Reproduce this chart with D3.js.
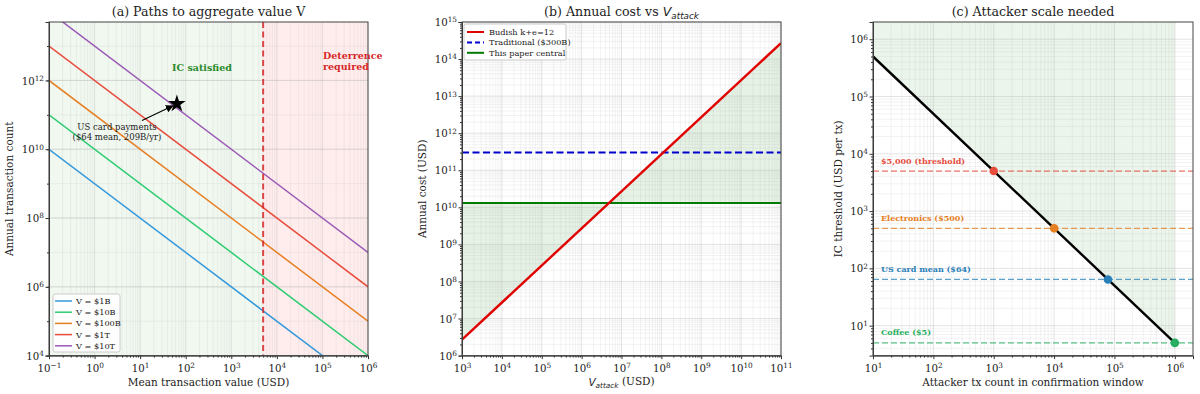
<!DOCTYPE html>
<html>
<head>
<meta charset="utf-8">
<script src="https://cdn.jsdelivr.net/npm/d3@7"></script>
<style>
  body { margin: 0; background: white; }
  svg text { font-family: "DejaVu Serif", serif; fill: #222; }
  .tick line { stroke: #333; }
  .domain { stroke: #333; }
</style>
</head>
<body>
<svg id="chart" width="1200" height="394"></svg>
<script>
// ---- panel (a) data ----
var aggValues = [1e9, 1e10, 1e11, 1e12, 1e13];
var aggLabels = ["V = $1B", "V = $10B", "V = $100B", "V = $1T", "V = $10T"];
var aggColors = ["#3498db", "#2ecc71", "#e67e22", "#e74c3c", "#9b59b6"];
var meanTxRange = [0.1, 1e6];
var countRange = [1e4, 5e13];
var deterrenceLine = 5000;
var usCardMean = 64, usCardCount = 209e9;

// ---- panel (b) data ----
var vAttack = [1e3, 1e11];
var budishCost = [2.7e6, 2.7e14];
var traditionalCost = 3e11;
var paperCentralCost = 1.3e10;
var costRange = [1e6, 1e15];

// ---- panel (c) data ----
var attackerTx = [10, 1e6];
var icThreshold = [5e5, 5];
var refLabels = ["$5,000 (threshold)", "Electronics ($500)", "US card mean ($64)", "Coffee ($5)"];
var refValues = [5000, 500, 64, 5];
var refTxCounts = [1e3, 1e4, 78125, 1e6];
var refColors = ["#e74c3c", "#e67e22", "#2980b9", "#27ae60"];
var txRange = [10, 2e6];
var thresholdRange = [3, 2e6];

var svg = d3.select("#chart");
var top_ = 22, bottom_ = 355.6;

function sup(sel, e) {
  sel.text("10").append("tspan")
    .attr("dy", "-0.5em").attr("font-size", "0.72em")
    .text(e < 0 ? "\u2212" + (-e) : e);
}

function decades(lo, hi, step) {
  var out = [];
  for (var e = Math.ceil(Math.log10(lo) - 1e-9); e <= Math.floor(Math.log10(hi) + 1e-9); e += (step || 1)) out.push(e);
  return out;
}
function minors(lo, hi) {
  var out = [];
  for (var e = Math.floor(Math.log10(lo)) ; e <= Math.ceil(Math.log10(hi)); e++)
    for (var m = 2; m <= 9; m++) { var v = m * Math.pow(10, e); if (v > lo && v < hi) out.push(v); }
  return out;
}

function panel(x0, x1, xDom, yDom, opts) {
  var g = svg.append("g");
  var x = d3.scaleLog().domain(xDom).range([x0, x1]);
  var y = d3.scaleLog().domain(yDom).range([bottom_, top_]);
  var id = "clip" + Math.round(x0);
  svg.append("clipPath").attr("id", id).append("rect")
    .attr("x", x0).attr("y", top_).attr("width", x1 - x0).attr("height", bottom_ - top_);
  var bg = g.append("g"), grid = g.append("g"), plot = g.append("g").attr("clip-path", "url(#" + id + ")");
  var xe = decades(xDom[0], xDom[1], 1), ye = decades(yDom[0], yDom[1], opts.yStep || 1);
  var xm = minors(xDom[0], xDom[1]), ym = opts.yStep ? decades(yDom[0], yDom[1], 1).map(function(e){return Math.pow(10,e);}) : minors(yDom[0], yDom[1]);
  // grid
  grid.selectAll(".vmin").data(xm).enter().append("line")
    .attr("x1", x).attr("x2", x).attr("y1", top_).attr("y2", bottom_)
    .attr("stroke", "#b0b0b0").attr("stroke-opacity", 0.25).attr("stroke-width", 0.6);
  grid.selectAll(".hmin").data(ym).enter().append("line")
    .attr("y1", y).attr("y2", y).attr("x1", x0).attr("x2", x1)
    .attr("stroke", "#b0b0b0").attr("stroke-opacity", 0.25).attr("stroke-width", 0.6);
  grid.selectAll(".vmaj").data(xe).enter().append("line")
    .attr("x1", function(e){return x(Math.pow(10,e));}).attr("x2", function(e){return x(Math.pow(10,e));})
    .attr("y1", top_).attr("y2", bottom_)
    .attr("stroke", "#b0b0b0").attr("stroke-opacity", 0.45).attr("stroke-width", 0.8);
  grid.selectAll(".hmaj").data(ye).enter().append("line")
    .attr("y1", function(e){return y(Math.pow(10,e));}).attr("y2", function(e){return y(Math.pow(10,e));})
    .attr("x1", x0).attr("x2", x1)
    .attr("stroke", "#b0b0b0").attr("stroke-opacity", 0.45).attr("stroke-width", 0.8);

  // axes
  var ax = g.append("g").attr("transform", "translate(0," + bottom_ + ")")
    .call(d3.axisBottom(x).tickValues(xe.map(function(e){return Math.pow(10,e);})).tickSize(3.5).tickPadding(3).tickFormat(""));
  ax.selectAll(".tick text").remove();
  ax.selectAll(".tick").append("text").attr("y", 16).attr("text-anchor", "middle")
    .attr("font-size", 10.2).each(function(d){ sup(d3.select(this), Math.round(Math.log10(d))); });
  g.append("g").attr("transform", "translate(0," + bottom_ + ")")
    .call(d3.axisBottom(x).tickValues(xm).tickSize(2).tickFormat("")).select(".domain").remove();
  var ay = g.append("g").attr("transform", "translate(" + x0 + ",0)")
    .call(d3.axisLeft(y).tickValues(ye.map(function(e){return Math.pow(10,e);})).tickSize(3.5).tickFormat(""));
  ay.selectAll(".tick").append("text").attr("x", -5).attr("dy", "0.35em").attr("text-anchor", "end")
    .attr("font-size", 10.2).each(function(d){ sup(d3.select(this), Math.round(Math.log10(d))); });
  g.append("g").attr("transform", "translate(" + x0 + ",0)")
    .call(d3.axisLeft(y).tickValues(ym).tickSize(2).tickFormat("")).select(".domain").remove();

  g.append("text").attr("x", (x0 + x1) / 2).attr("y", 386).attr("text-anchor", "middle")
    .attr("font-size", 10.5).attr("class", "xl").text(opts.xlabel);
  g.append("text").attr("transform", "translate(" + opts.ylx + "," + ((top_ + bottom_) / 2) + ") rotate(-90)")
    .attr("text-anchor", "middle").attr("font-size", 10.5).text(opts.ylabel);
  g.append("text").attr("x", (x0 + x1) / 2).attr("y", 16).attr("text-anchor", "middle")
    .attr("font-size", 12.6).attr("class", "title").text(opts.title);

  var frame = g.append("rect").attr("x", x0).attr("y", top_).attr("width", x1 - x0).attr("height", bottom_ - top_)
    .attr("fill", "none").attr("stroke", "#444").attr("stroke-width", 1);
  return {g: g, bg: bg, plot: plot, x: x, y: y, frame: frame};
}

// ================= panel (a) =================
var A = panel(49, 368, meanTxRange, countRange, {
  yStep: 2, title: "(a) Paths to aggregate value V",
  xlabel: "Mean transaction value (USD)", ylabel: "Annual transaction count", ylx: 13
});
A.bg.append("rect").attr("x", A.x(meanTxRange[0])).attr("y", top_)
  .attr("width", A.x(deterrenceLine) - A.x(meanTxRange[0])).attr("height", bottom_ - top_)
  .attr("fill", "green").attr("fill-opacity", 0.06);
A.bg.append("rect").attr("x", A.x(deterrenceLine)).attr("y", top_)
  .attr("width", A.x(meanTxRange[1]) - A.x(deterrenceLine)).attr("height", bottom_ - top_)
  .attr("fill", "red").attr("fill-opacity", 0.07);
var lineA = d3.line().x(function(d){return A.x(d[0]);}).y(function(d){return A.y(d[1]);});
aggValues.forEach(function(V, i) {
  A.plot.append("path").datum(meanTxRange.map(function(m){ return [m, V / m]; }))
    .attr("d", lineA).attr("fill", "none").attr("stroke", aggColors[i]).attr("stroke-width", 1.5);
});
A.plot.append("line").attr("x1", A.x(deterrenceLine)).attr("x2", A.x(deterrenceLine))
  .attr("y1", top_).attr("y2", bottom_).attr("stroke", "#d62728").attr("stroke-width", 2)
  .attr("stroke-dasharray", "6,3.5").attr("stroke-opacity", 0.85);
var starX = A.x(usCardMean), starY = A.y(usCardCount);
A.g.append("path").attr("transform", "translate(" + starX + "," + starY + ")")
  .attr("d", d3.symbol().type(d3.symbolStar).size(95)).attr("fill", "black");
svg.append("defs").append("marker").attr("id", "arr").attr("viewBox", "0 0 10 10")
  .attr("refX", 9).attr("refY", 5).attr("markerWidth", 7).attr("markerHeight", 7).attr("orient", "auto")
  .append("path").attr("d", "M0,0 L10,5 L0,10 z").attr("fill", "black");
A.g.append("line").attr("x1", 142).attr("y1", 120.5).attr("x2", starX - 4).attr("y2", starY + 2)
  .attr("stroke", "black").attr("stroke-width", 1.1).attr("marker-end", "url(#arr)");
A.g.append("text").attr("x", 117).attr("y", 130).attr("text-anchor", "middle").attr("font-size", 8.5)
  .text("US card payments");
A.g.append("text").attr("x", 117).attr("y", 140).attr("text-anchor", "middle").attr("font-size", 8.5)
  .text("($64 mean, 209B/yr)");
A.g.append("text").attr("x", 202).attr("y", 71).attr("text-anchor", "middle").attr("font-size", 9.5)
  .attr("font-weight", "bold").style("fill", "#2a8a2a").text("IC satisfied");
A.g.append("text").attr("x", 323).attr("y", 59).attr("font-size", 9.5)
  .attr("font-weight", "bold").style("fill", "#d62728").text("Deterrence");
A.g.append("text").attr("x", 323).attr("y", 70).attr("font-size", 9.5)
  .attr("font-weight", "bold").style("fill", "#d62728").text("required");
// legend (a)
var legA = A.g.append("g");
legA.append("rect").attr("x", 53).attr("y", 294).attr("width", 67).attr("height", 58).attr("rx", 2)
  .attr("fill", "white").attr("fill-opacity", 0.85).attr("stroke", "#ccc");
aggLabels.forEach(function(l, i) {
  var yy = 301 + i * 11.2;
  legA.append("line").attr("x1", 55).attr("x2", 72).attr("y1", yy).attr("y2", yy)
    .attr("stroke", aggColors[i]).attr("stroke-width", 1.5);
  legA.append("text").attr("x", 76).attr("y", yy + 3).attr("font-size", 8.2).text(l);
});

// ================= panel (b) =================
var B = panel(462, 781, vAttack, costRange, {
  title: "", xlabel: "", ylabel: "Annual cost (USD)", ylx: 426
});
var bt = B.g.select(".title");
bt.text("(b) Annual cost vs ");
bt.append("tspan").style("font-family", "DejaVu Sans").style("font-style", "italic").text("V");
bt.append("tspan").style("font-family", "DejaVu Sans").style("font-style", "italic")
  .attr("font-size", "0.7em").attr("dy", "0.3em").text("attack");
var bxl = B.g.select(".xl");
bxl.append("tspan").style("font-family", "DejaVu Sans").style("font-style", "italic").text("V");
bxl.append("tspan").style("font-family", "DejaVu Sans").style("font-style", "italic")
  .attr("font-size", "0.7em").attr("dy", "0.3em").text("attack");
bxl.append("tspan").attr("dy", "-0.3em").text(" (USD)");
var budish = vAttack.map(function(v, i){ return [v, budishCost[i]]; });
B.bg.append("path").datum(budish)
  .attr("d", d3.area().x(function(d){return B.x(d[0]);}).y0(B.y(paperCentralCost)).y1(function(d){return B.y(d[1]);}))
  .attr("fill", "green").attr("fill-opacity", 0.1);
B.plot.append("line").attr("x1", B.x(vAttack[0])).attr("x2", B.x(vAttack[1]))
  .attr("y1", B.y(traditionalCost)).attr("y2", B.y(traditionalCost))
  .attr("stroke", "#0000cc").attr("stroke-width", 2).attr("stroke-dasharray", "7,3.5");
B.plot.append("line").attr("x1", B.x(vAttack[0])).attr("x2", B.x(vAttack[1]))
  .attr("y1", B.y(paperCentralCost)).attr("y2", B.y(paperCentralCost))
  .attr("stroke", "#007a00").attr("stroke-width", 2);
B.plot.append("path").datum(budish)
  .attr("d", d3.line().x(function(d){return B.x(d[0]);}).y(function(d){return B.y(d[1]);}))
  .attr("fill", "none").attr("stroke", "#e00000").attr("stroke-width", 2.4);
var legB = B.g.append("g");
legB.append("rect").attr("x", 464).attr("y", 24).attr("width", 102).attr("height", 36).attr("rx", 2)
  .attr("fill", "white").attr("fill-opacity", 0.9).attr("stroke", "#ccc");
[["Budish k+e=12", "#e00000", null], ["Traditional ($300B)", "#0000cc", "5,3"], ["This paper central", "#007a00", null]]
  .forEach(function(d, i) {
    var yy = 32 + i * 10.4;
    legB.append("line").attr("x1", 467).attr("x2", 484).attr("y1", yy).attr("y2", yy)
      .attr("stroke", d[1]).attr("stroke-width", 2).attr("stroke-dasharray", d[2]);
    legB.append("text").attr("x", 489).attr("y", yy + 3).attr("font-size", 8.2).text(d[0]);
  });

// ================= panel (c) =================
var C = panel(873, 1193, txRange, thresholdRange, {
  title: "(c) Attacker scale needed", xlabel: "Attacker tx count in confirmation window",
  ylabel: "IC threshold (USD per tx)", ylx: 842
});
var icLine = attackerTx.map(function(n, i){ return [n, icThreshold[i]]; });
C.bg.append("path").datum(icLine)
  .attr("d", d3.area().x(function(d){return C.x(d[0]);}).y0(C.y(thresholdRange[1])).y1(function(d){return C.y(d[1]);}))
  .attr("fill", "green").attr("fill-opacity", 0.08);
refValues.forEach(function(v, i) {
  C.plot.append("line").attr("x1", 873).attr("x2", 1193).attr("y1", C.y(v)).attr("y2", C.y(v))
    .attr("stroke", refColors[i]).attr("stroke-opacity", 0.75).attr("stroke-width", 1.3).attr("stroke-dasharray", "6,3");
  C.g.append("text").attr("x", 881).attr("y", C.y(v) - 7.5).attr("font-size", 8).attr("font-weight", "bold")
    .style("fill", refColors[i]).text(refLabels[i]);
});
C.plot.append("path").datum(icLine)
  .attr("d", d3.line().x(function(d){return C.x(d[0]);}).y(function(d){return C.y(d[1]);}))
  .attr("fill", "none").attr("stroke", "black").attr("stroke-width", 2.4);
refValues.forEach(function(v, i) {
  C.g.append("circle").attr("cx", C.x(refTxCounts[i])).attr("cy", C.y(v)).attr("r", 4.3).attr("fill", refColors[i]);
});
</script>
</body>
</html>
